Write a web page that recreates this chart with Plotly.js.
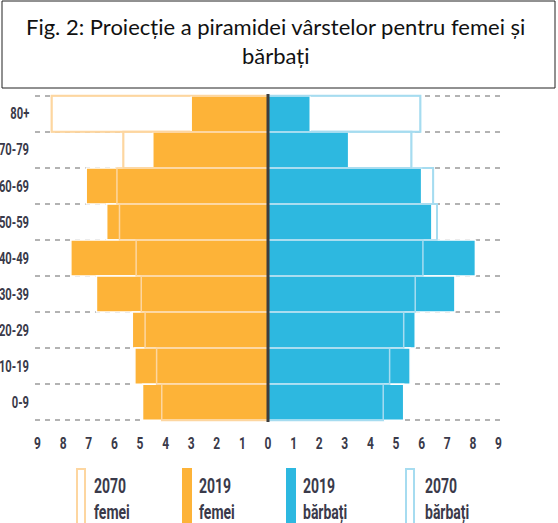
<!DOCTYPE html>
<html><head><meta charset="utf-8">
<script src="https://cdn.plot.ly/plotly-3.0.1.min.js"></script>
<style>html,body{margin:0;padding:0;background:#fff;overflow:hidden;}</style>
</head><body>
<div id="chart" style="width:558px;height:523px;"></div>
<script>
// ---- data (top row to bottom row) ----
const ageGroups = ['80+', '70-79', '60-69', '50-59', '40-49', '30-39', '20-29', '10-19', '0-9'];
const female2019 = [3.0, 4.5, 7.1, 6.3, 7.7, 6.7, 5.3, 5.2, 4.9];
const female2070 = [8.45, 5.65, 5.9, 5.8, 5.15, 4.95, 4.8, 4.35, 4.15];
const male2019 = [1.65, 3.15, 6.0, 6.4, 8.1, 7.3, 5.75, 5.55, 5.3];
const male2070 = [5.95, 5.6, 6.45, 6.6, 6.05, 5.75, 5.3, 4.75, 4.5];
const xTickValues = [-9, -8, -7, -6, -5, -4, -3, -2, -1, 0, 1, 2, 3, 4, 5, 6, 7, 8, 9];
const xTickLabels = ['9', '8', '7', '6', '5', '4', '3', '2', '1', '0', '1', '2', '3', '4', '5', '6', '7', '8', '9'];
const seriesNames = ['2070 femei', '2019 femei', '2019 bărbați', '2070 bărbați'];
const titleText = 'Fig. 2: Proiecție a piramidei vârstelor pentru femei și<br>bărbați';

// ---- styling ----
const ORANGE = '#FDB338', ORANGE_PALE = '#FDD6A0';
const BLUE = '#2DB8E0', BLUE_PALE = '#A6DCF0';
const COND = 'Roboto, "Liberation Sans", sans-serif';
const TXT = '#3a3a4a';

const W = 558, H = 523, M = {l: 35, r: 57, t: 94, b: 101};
const px = x => (x - M.l) / (W - M.l - M.r);
const py = y => (H - M.b - y) / (H - M.t - M.b);
const neg = a => a.map(v => -v);
const rowPos = ageGroups.map((_, i) => i);   // row index of each age group on the y axis

const base = {type: 'bar', orientation: 'h', y: rowPos, hoverinfo: 'skip', showlegend: false};
const traces = [
  Object.assign({}, base, {name: seriesNames[0], x: neg(female2070), marker: {color: '#ffffff', line: {color: ORANGE_PALE, width: 2}}}),
  Object.assign({}, base, {name: seriesNames[3], x: male2070, marker: {color: '#ffffff', line: {color: BLUE_PALE, width: 2}}}),
  Object.assign({}, base, {name: seriesNames[1], x: neg(female2019), marker: {color: ORANGE, line: {color: '#ffffff', width: 1.5}}}),
  Object.assign({}, base, {name: seriesNames[2], x: male2019, marker: {color: BLUE, line: {color: '#ffffff', width: 1.5}}}),
  Object.assign({}, base, {name: seriesNames[0] + ' contur', x: neg(female2070), marker: {color: 'rgba(0,0,0,0)', line: {color: ORANGE_PALE, width: 1.5}}}),
  Object.assign({}, base, {name: seriesNames[3] + ' contur', x: male2070, marker: {color: 'rgba(0,0,0,0)', line: {color: BLUE_PALE, width: 1.5}}})
];

// custom legend (tall narrow swatches with two-line labels)
const swatchX = [77, 183, 287, 406];
const labelX = [92, 197, 301, 423];
const legendFill = ['#ffffff', ORANGE, BLUE, '#ffffff'];
const legendLine = [ORANGE_PALE, ORANGE, BLUE, BLUE_PALE];
const shapes = [
  {type: 'rect', xref: 'paper', yref: 'paper', x0: px(2), x1: px(555), y0: py(88), y1: py(1),
   line: {color: '#222222', width: 1}, fillcolor: 'rgba(0,0,0,0)', layer: 'above'},
  {type: 'line', xref: 'x', yref: 'paper', x0: 0, x1: 0, y0: 0, y1: 1,
   line: {color: '#3d3d3d', width: 3}, layer: 'above'}
];
const annotations = [
  {xref: 'paper', yref: 'paper', x: px(275), y: py(41), xanchor: 'center', yanchor: 'middle', showarrow: false,
   align: 'center', text: titleText, font: {family: 'Lato, "Open Sans", sans-serif', size: 22, color: '#111111'}}
];
seriesNames.forEach((n, i) => {
  shapes.push({type: 'rect', xref: 'paper', yref: 'paper', x0: px(swatchX[i]), x1: px(swatchX[i] + 8),
    y0: py(530), y1: py(469), fillcolor: legendFill[i], line: {color: legendLine[i], width: 2}});
  annotations.push({xref: 'paper', yref: 'paper', x: px(labelX[i]), y: py(499), xanchor: 'left', yanchor: 'middle',
    showarrow: false, align: 'left', text: n.replace(' ', '<br>'),
    font: {family: COND, size: 20, color: TXT, weight: 'bold'}});
});

const layout = {
  width: W, height: H, margin: M,
  paper_bgcolor: '#ffffff', plot_bgcolor: '#ffffff',
  barmode: 'overlay', bargap: 0,
  xaxis: {range: [-9.1, 9.1], tickmode: 'array', tickvals: xTickValues, ticktext: xTickLabels,
          showgrid: false, zeroline: false, showline: false, ticks: '', ticklabelstandoff: 10,
          tickfont: {family: COND, size: 16, color: TXT, weight: 'bold'}, fixedrange: true},
  yaxis: {type: 'linear', range: [8.55, -0.55], tickmode: 'array', tickvals: rowPos, ticktext: ageGroups,
          showgrid: false, zeroline: false, showline: false, ticks: '', ticklabelstandoff: 5,
          minor: {tick0: 0.5, dtick: 1, showgrid: true, gridcolor: '#b3b3b3', gridwidth: 2, griddash: '5px,5px', ticks: ''},
          tickfont: {family: COND, size: 16, color: TXT, weight: 'bold'}, fixedrange: true},
  shapes: shapes, annotations: annotations, showlegend: false
};

// narrow the labels (the original uses a condensed typeface); keep the anchor point fixed
function condense(nodes, factor, anchor) {
  nodes.forEach(t => {
    const w = t.getComputedTextLength();
    if (!(w > 0)) return;
    const bb = t.getBBox();
    const nw = w * factor;
    let x0 = null;
    if (anchor === 'end') x0 = bb.x + bb.width - nw;
    else if (anchor === 'middle') x0 = bb.x + bb.width / 2 - nw / 2;
    t.setAttribute('textLength', nw.toFixed(2));
    t.setAttribute('lengthAdjust', 'spacingAndGlyphs');
    if (x0 !== null) {
      t.setAttribute('text-anchor', 'start');
      t.style.textAnchor = 'start';
      t.setAttribute('x', x0.toFixed(2));
    }
  });
}
Plotly.newPlot('chart', traces, layout, {displayModeBar: false, staticPlot: true}).then(gd => {
  condense(gd.querySelectorAll('.ytick text'), 0.7, 'end');
  condense(gd.querySelectorAll('.xtick text'), 0.75, 'middle');
  const ann = gd.querySelectorAll('.annotation-text');
  for (let i = 1; i < ann.length; i++) {
    const lines = ann[i].querySelectorAll('tspan.line');
    condense(lines.length ? lines : [ann[i]], 0.7, null);
  }
});
</script>
</body></html>
